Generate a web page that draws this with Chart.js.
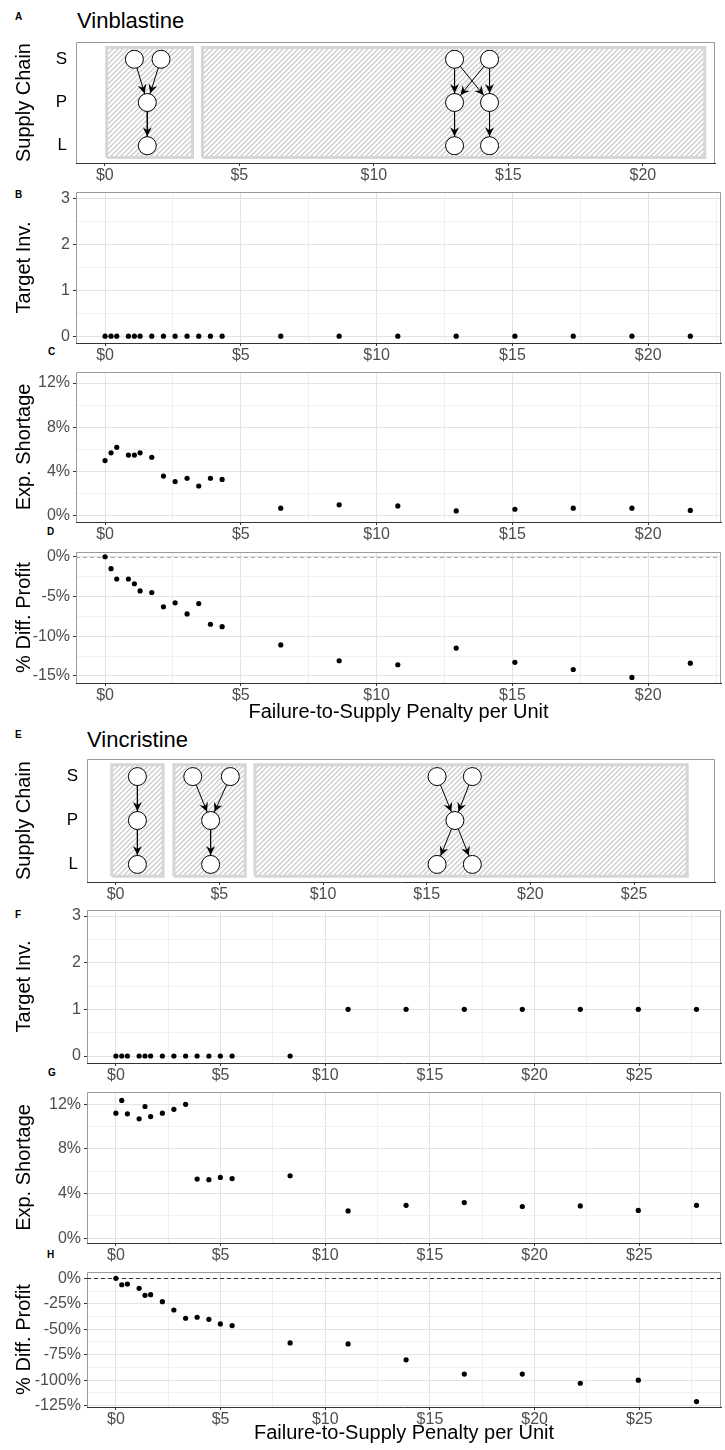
<!DOCTYPE html>
<html>
<head>
<meta charset="utf-8">
<script src="https://cdn.jsdelivr.net/npm/chart.js@4.4.1/dist/chart.umd.min.js"></script>
<style>
  body { margin: 0; width: 725px; height: 1450px; overflow: hidden; background: #fff; position: relative;
         font-family: "Liberation Sans", Arial, sans-serif; }
  canvas { position: absolute; left: 0; }
  .lbl { position: absolute; font-size: 10px; font-weight: bold; line-height: 10px; }
  .ttl { position: absolute; font-size: 22px; line-height: 22px; }
</style>
</head>
<body>
<div class="lbl" style="left:15px;top:12px">A</div>
<div class="ttl" style="left:77px;top:10px">Vinblastine</div>
<div class="lbl" style="left:15px;top:190px">B</div>
<div class="lbl" style="left:48px;top:347px">C</div>
<div class="lbl" style="left:47px;top:527px">D</div>
<div class="lbl" style="left:15px;top:730px">E</div>
<div class="ttl" style="left:87px;top:729px">Vincristine</div>
<div class="lbl" style="left:15px;top:910px">F</div>
<div class="lbl" style="left:48px;top:1068px">G</div>
<div class="lbl" style="left:47px;top:1250px">H</div>

<script>
// ---- data: Vinblastine ----
const vinPenalty = [0, 0.22, 0.43, 0.86, 1.08, 1.29, 1.72, 2.15, 2.58, 3.02, 3.45, 3.88, 4.31, 6.47, 8.62, 10.78, 12.93, 15.09, 17.24, 19.40, 21.55];
const vinTargetInv = [0, 0, 0, 0, 0, 0, 0, 0, 0, 0, 0, 0, 0, 0, 0, 0, 0, 0, 0, 0, 0];
const vinShortage = [5.0, 5.7, 6.2, 5.5, 5.5, 5.7, 5.3, 3.6, 3.1, 3.4, 2.7, 3.4, 3.3, 0.7, 1.0, 0.9, 0.45, 0.6, 0.7, 0.7, 0.5];
const vinProfit = [0, -1.5, -2.8, -2.8, -3.4, -4.3, -4.5, -6.3, -5.8, -7.2, -5.9, -8.5, -8.8, -11.1, -13.1, -13.6, -11.5, -13.3, -14.2, -15.2, -13.4];
const vinRegions = [[0.07, 3.26], [3.63, 22.3]];
const vinNodes = [[1.10, 'S'], [2.09, 'S'], [1.58, 'P'], [1.58, 'L'],
                  [13.0, 'S'], [14.3, 'S'], [13.0, 'P'], [14.3, 'P'], [13.0, 'L'], [14.3, 'L']];
const vinEdges = [[1.10, 'S', 1.58, 'P'], [2.09, 'S', 1.58, 'P'], [1.58, 'P', 1.58, 'L'],
                  [13.0, 'S', 13.0, 'P'], [13.0, 'S', 14.3, 'P'], [14.3, 'S', 13.0, 'P'], [14.3, 'S', 14.3, 'P'],
                  [13.0, 'P', 13.0, 'L'], [14.3, 'P', 14.3, 'L']];

// ---- data: Vincristine ----
const vcrPenalty = [0, 0.28, 0.55, 1.11, 1.39, 1.66, 2.22, 2.77, 3.33, 3.88, 4.44, 4.99, 5.55, 8.32, 11.09, 13.86, 16.64, 19.41, 22.18, 24.95, 27.73];
const vcrTargetInv = [0, 0, 0, 0, 0, 0, 0, 0, 0, 0, 0, 0, 0, 0, 1, 1, 1, 1, 1, 1, 1];
const vcrShortage = [11.2, 12.35, 11.15, 10.7, 11.8, 10.9, 11.2, 11.55, 12.0, 5.3, 5.25, 5.45, 5.35, 5.6, 2.45, 2.95, 3.2, 2.85, 2.9, 2.5, 2.95];
const vcrProfit = [0, -6.3, -5.6, -9.8, -16.7, -16.1, -22.9, -31.1, -39.2, -38.2, -40.2, -44.8, -46.4, -63.4, -64.4, -80, -94, -94, -103, -100, -121];
const vcrRegions = [[-0.19, 2.29], [2.81, 6.25], [6.72, 27.56]];
const vcrNodes = [[1.05, 'S'], [1.05, 'P'], [1.05, 'L'],
                  [3.72, 'S'], [5.53, 'S'], [4.58, 'P'], [4.58, 'L'],
                  [15.5, 'S'], [17.2, 'S'], [16.36, 'P'], [15.5, 'L'], [17.2, 'L']];
const vcrEdges = [[1.05, 'S', 1.05, 'P'], [1.05, 'P', 1.05, 'L'],
                  [3.72, 'S', 4.58, 'P'], [5.53, 'S', 4.58, 'P'], [4.58, 'P', 4.58, 'L'],
                  [15.5, 'S', 16.36, 'P'], [17.2, 'S', 16.36, 'P'], [16.36, 'P', 15.5, 'L'], [16.36, 'P', 17.2, 'L']];

const levels = { S: 3, P: 2, L: 1 };
const levelNames = { 3: 'S', 2: 'P', 1: 'L' };

Chart.defaults.font.family = '"Liberation Sans", Arial, sans-serif';

const MAJOR = '#e3e3e3';
const MINOR = '#f1f1f1';
const NODE_R = 9;

// diagonal hatch for the supply chain boxes
function hatch() {
  const c = document.createElement('canvas');
  c.width = 5; c.height = 5;
  const g = c.getContext('2d');
  g.fillStyle = '#fff';
  g.fillRect(0, 0, 5, 5);
  g.strokeStyle = '#cdcdcd';
  g.lineWidth = 1.4;
  g.beginPath();
  g.moveTo(-1, 6); g.lineTo(6, -1);
  g.moveTo(-1, 1); g.lineTo(1, -1);
  g.moveTo(4, 6); g.lineTo(6, 4);
  g.stroke();
  return g.createPattern(c, 'repeat');
}

// grey frame round the plot area (bottom is the x axis line)
const frame = {
  id: 'frame',
  beforeDatasetsDraw(chart) {
    const { ctx, chartArea: a } = chart;
    ctx.save();
    ctx.strokeStyle = '#9a9a9a';
    ctx.lineWidth = 1;
    ctx.beginPath();
    ctx.moveTo(a.left + 0.5, a.bottom);
    ctx.lineTo(a.left + 0.5, a.top + 0.5);
    ctx.lineTo(a.right - 0.5, a.top + 0.5);
    ctx.lineTo(a.right - 0.5, a.bottom);
    ctx.stroke();
    ctx.restore();
  }
};

// dashed reference line at 0
const zeroLine = {
  id: 'zeroLine',
  beforeDatasetsDraw(chart, args, opts) {
    if (!opts.color) return;
    const { ctx, chartArea: a } = chart;
    const y = Math.round(chart.scales.y.getPixelForValue(0)) + 0.5;
    ctx.save();
    ctx.strokeStyle = opts.color;
    ctx.setLineDash([4, 3]);
    ctx.lineWidth = 1;
    ctx.beginPath();
    ctx.moveTo(a.left, y);
    ctx.lineTo(a.right, y);
    ctx.stroke();
    ctx.restore();
  }
};

// arrow heads on the supply chain edges
const arrows = {
  id: 'arrows',
  afterDatasetsDraw(chart) {
    const ctx = chart.ctx;
    chart.data.datasets.forEach((ds, i) => {
      if (!ds.arrow) return;
      const pts = chart.getDatasetMeta(i).data;
      const a = pts[0], b = pts[1];
      const ang = Math.atan2(b.y - a.y, b.x - a.x);
      const tx = b.x - Math.cos(ang) * (NODE_R + 0.5);
      const ty = b.y - Math.sin(ang) * (NODE_R + 0.5);
      ctx.save();
      ctx.translate(tx, ty);
      ctx.rotate(ang);
      ctx.fillStyle = '#000';
      ctx.beginPath();
      ctx.moveTo(0, 0);
      ctx.lineTo(-9, -4.5);
      ctx.lineTo(-6, 0);
      ctx.lineTo(-9, 4.5);
      ctx.closePath();
      ctx.fill();
      ctx.restore();
    });
  }
};

function dotSet(xs, ys) {
  return [{
    data: xs.map((x, i) => ({ x: x, y: ys[i] })),
    showLine: false,
    pointRadius: 2.6,
    pointBackgroundColor: '#000',
    pointBorderWidth: 0
  }];
}

function chainSets(regions, nodes, edges) {
  const pat = hatch();
  const sets = [];
  const lo = 0.73, hi = 3.27;
  regions.forEach(r => {
    sets.push({ data: [{ x: r[0], y: hi }, { x: r[1], y: hi }], fill: { value: lo }, backgroundColor: pat,
                borderWidth: 0, pointRadius: 0, order: 4 });
    sets.push({ data: [{ x: r[0], y: lo }, { x: r[1], y: lo }, { x: r[1], y: hi }, { x: r[0], y: hi }, { x: r[0], y: lo }],
                borderColor: '#d6d6d6', borderWidth: 3, pointRadius: 0, fill: false, order: 3 });
  });
  edges.forEach(e => {
    sets.push({ data: [{ x: e[0], y: levels[e[1]] }, { x: e[2], y: levels[e[3]] }], arrow: true,
                borderColor: '#000', borderWidth: 1, pointRadius: 0, fill: false, order: 1 });
  });
  sets.push({
    data: nodes.map(n => ({ x: n[0], y: levels[n[1]] })),
    showLine: false, pointRadius: NODE_R, pointBackgroundColor: '#fff', pointBorderColor: '#000',
    pointBorderWidth: 1, order: 0
  });
  return sets;
}

// fixed axis sizes so every panel lines up with the reference
function fixY(s, w) {
  s.width = w;
  s.paddingTop = 0;
  s.paddingBottom = 0;
}
function fixX(s, h) {
  s.height = h;
  s.paddingLeft = 0;
  s.paddingRight = 0;
}

function makePanel(o) {
  const cv = document.createElement('canvas');
  cv.width = 725;
  cv.height = o.h;
  cv.style.top = o.top + 'px';
  document.body.appendChild(cv);

  const isMajorX = v => Math.abs(v % 5) < 1e-9;
  const tickCol = (ctx, major) => (ctx.tick && major(ctx.tick.value)) ? '#333' : 'rgba(0,0,0,0)';
  const gridCol = (ctx, major) => (ctx.tick && major(ctx.tick.value)) ? MAJOR : MINOR;

  const yScale = o.chain ? {
    min: 0.6, max: 3.4,
    afterFit: s => fixY(s, o.left),
    border: { display: false },
    grid: { display: false, drawTicks: false, tickLength: 0 },
    ticks: { stepSize: 1, includeBounds: false, padding: 9, color: '#000', font: { size: 17 },
             callback: v => levelNames[v] || '' },
    title: { display: true, text: 'Supply Chain', color: '#000', font: { size: 20 }, padding: { top: 12, bottom: 0 } }
  } : {
    min: o.ymin, max: o.ymax,
    afterFit: s => fixY(s, o.left),
    border: { display: false },
    grid: { color: c => gridCol(c, o.yMajor), tickLength: 3, tickColor: c => tickCol(c, o.yMajor) },
    ticks: { stepSize: o.ystep, autoSkip: false, includeBounds: false, padding: 3, color: '#4d4d4d',
             font: { size: 16 }, callback: v => o.yMajor(v) ? o.yLabel(v) : '' },
    title: { display: true, text: o.ytitle, color: '#000', font: { size: 20 }, padding: { top: 12, bottom: 0 } }
  };

  return new Chart(cv, {
    type: 'line',
    data: { datasets: o.datasets },
    plugins: [frame, zeroLine, arrows],
    options: {
      responsive: false,
      animation: false,
      devicePixelRatio: 1,
      events: [],
      layout: { padding: { top: 4, right: 3, left: 0, bottom: 0 } },
      plugins: { legend: { display: false }, tooltip: { enabled: false }, zeroLine: { color: o.zero } },
      elements: { line: { tension: 0 } },
      scales: {
        x: {
          type: 'linear', min: o.xmin, max: o.xmax,
          afterFit: s => fixX(s, o.xh || 24),
          border: { color: '#333', width: 1 },
          grid: { drawOnChartArea: !o.chain, color: c => gridCol(c, isMajorX), tickLength: 3,
                  tickColor: c => tickCol(c, isMajorX) },
          ticks: { stepSize: 2.5, autoSkip: false, includeBounds: false, maxRotation: 0, padding: 0,
                   color: '#4d4d4d', font: { size: 16 }, callback: v => isMajorX(v) ? '$' + v : '' },
          title: o.xtitle ? { display: true, text: o.xtitle, color: '#000', font: { size: 20 },
                              padding: { top: 0, bottom: 5 } } : { display: false }
        },
        y: yScale
      }
    }
  });
}

const intMajor = v => Math.abs(v % 1) < 1e-9;
const pct4 = v => Math.abs(v % 4) < 1e-9;
const pct5 = v => Math.abs(v % 5) < 1e-9;
const pct25 = v => Math.abs(v % 25) < 1e-9;
const pctLabel = v => v + '%';
const XTITLE = 'Failure-to-Supply Penalty per Unit';

// Vinblastine panels
const topX = { left: 76, xmin: -1.07, xmax: 22.68 };
makePanel(Object.assign({ top: 32, h: 155, chain: true, datasets: chainSets(vinRegions, vinNodes, vinEdges) }, topX));
makePanel(Object.assign({ top: 188, h: 179, ymin: -0.15, ymax: 3.15, ystep: 0.5, yMajor: intMajor, yLabel: v => '' + v,
  ytitle: 'Target Inv.', datasets: dotSet(vinPenalty, vinTargetInv) }, topX));
makePanel(Object.assign({ top: 368, h: 178, ymin: -0.55, ymax: 13, ystep: 2, yMajor: pct4, yLabel: pctLabel,
  ytitle: 'Exp. Shortage', datasets: dotSet(vinPenalty, vinShortage) }, topX));
makePanel(Object.assign({ top: 548, h: 181, xh: 46, ymin: -15.9, ymax: 0.6, ystep: 2.5, yMajor: pct5, yLabel: pctLabel,
  ytitle: '% Diff. Profit', zero: '#a8a8a8', xtitle: XTITLE, datasets: dotSet(vinPenalty, vinProfit) }, topX));

// Vincristine panels
const botX = { left: 87, xmin: -1.38, xmax: 28.9 };
makePanel(Object.assign({ top: 749, h: 157, chain: true, datasets: chainSets(vcrRegions, vcrNodes, vcrEdges) }, botX));
makePanel(Object.assign({ top: 906, h: 181, ymin: -0.15, ymax: 3.13, ystep: 0.5, yMajor: intMajor, yLabel: v => '' + v,
  ytitle: 'Target Inv.', datasets: dotSet(vcrPenalty, vcrTargetInv) }, botX));
makePanel(Object.assign({ top: 1088, h: 179, ymin: -0.42, ymax: 13.1, ystep: 2, yMajor: pct4, yLabel: pctLabel,
  ytitle: 'Exp. Shortage', datasets: dotSet(vcrPenalty, vcrShortage) }, botX));
makePanel(Object.assign({ top: 1268, h: 182, xh: 43, ymin: -126.3, ymax: 6.2, ystep: 12.5, yMajor: pct25, yLabel: pctLabel,
  ytitle: '% Diff. Profit', zero: '#333', xtitle: XTITLE, datasets: dotSet(vcrPenalty, vcrProfit) }, botX));
</script>
</body>
</html>
